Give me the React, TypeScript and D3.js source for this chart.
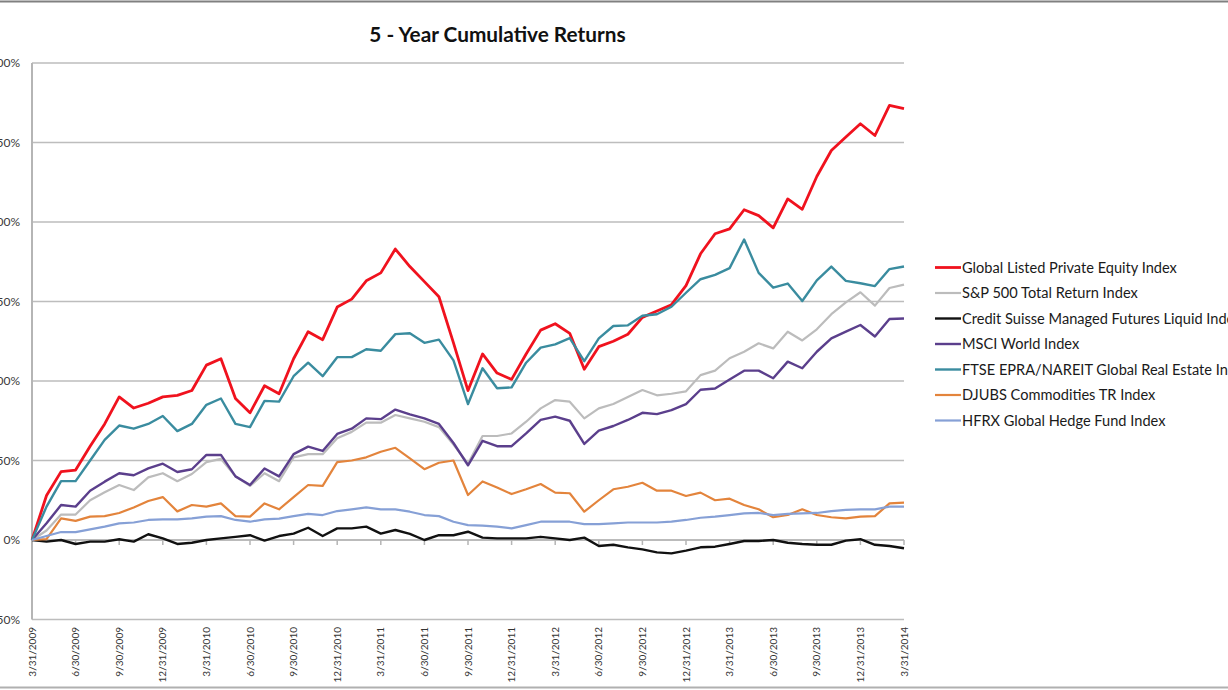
import React from 'react';
import * as d3 from 'd3';

// month-end dates, 3/31/2009 .. 3/31/2014
const dates = [
  '3/31/2009', '4/30/2009', '5/31/2009', '6/30/2009', '7/31/2009', '8/31/2009',
  '9/30/2009', '10/31/2009', '11/30/2009', '12/31/2009', '1/31/2010', '2/28/2010',
  '3/31/2010', '4/30/2010', '5/31/2010', '6/30/2010', '7/31/2010', '8/31/2010',
  '9/30/2010', '10/31/2010', '11/30/2010', '12/31/2010', '1/31/2011', '2/28/2011',
  '3/31/2011', '4/30/2011', '5/31/2011', '6/30/2011', '7/31/2011', '8/31/2011',
  '9/30/2011', '10/31/2011', '11/30/2011', '12/31/2011', '1/31/2012', '2/29/2012',
  '3/31/2012', '4/30/2012', '5/31/2012', '6/30/2012', '7/31/2012', '8/31/2012',
  '9/30/2012', '10/31/2012', '11/30/2012', '12/31/2012', '1/31/2013', '2/28/2013',
  '3/31/2013', '4/30/2013', '5/31/2013', '6/30/2013', '7/31/2013', '8/31/2013',
  '9/30/2013', '10/31/2013', '11/30/2013', '12/31/2013', '1/31/2014', '2/28/2014',
  '3/31/2014',
];

const tickLabels = [
  '3/31/2009', '6/30/2009', '9/30/2009', '12/31/2009', '3/31/2010', '6/30/2010',
  '9/30/2010', '12/31/2010', '3/31/2011', '6/30/2011', '9/30/2011', '12/31/2011',
  '3/31/2012', '6/30/2012', '9/30/2012', '12/31/2012', '3/31/2013', '6/30/2013',
  '9/30/2013', '12/31/2013', '3/31/2014',
];

const yTicks = [-50, 0, 50, 100, 150, 200, 250, 300];

// cumulative returns in %
const glpe = [
  0, 28, 43, 44, 59, 73, 90, 83, 86, 90, 91, 94, 110, 114, 89, 80, 97, 92, 114, 131,
  126, 146.5, 151.5, 163, 168, 183, 172, 162.5, 153, 124, 94, 117, 105, 101, 117, 132, 136, 130, 107.4, 121.6,
  125, 129.4, 140, 144, 148, 160, 180, 192.6, 195.7, 207.7, 204, 196.3, 214.5, 208, 228.6, 245, 253.4, 261.8, 254.4, 273.3,
  271.3,
];
const sp500 = [
  0, 6, 16, 16, 25, 30, 34.6, 31.4, 39.4, 42, 37, 41.5, 49, 51, 40, 34, 42, 37, 52, 54,
  54, 64, 68, 73.8, 73.8, 78.6, 76.5, 74.4, 71, 60, 48, 65.4, 65.4, 67, 74.4, 82.8, 88, 87, 76.5, 82.8,
  85.5, 90, 94.3, 91, 92, 93.5, 103.7, 106.5, 114.3, 118.4, 123.7, 120.5, 131, 125.5, 132.5, 142, 149.5, 155.8, 147.4, 158.5,
  160.6,
];
const creditSuisse = [
  0, -1, 0, -2.5, -1, -1, 0.5, -1, 3.6, 1, -2.5, -1.7, 0, 1, 2, 3, -0.4, 2.5, 4, 7.7,
  2.5, 7.3, 7.3, 8.4, 4, 6.3, 3.8, 0, 3, 3, 5.2, 1.5, 1, 1, 1, 2, 1, 0, 1.5, -3.8,
  -3, -4.6, -5.9, -7.8, -8.4, -6.7, -4.6, -4.2, -2.5, -0.6, -0.6, 0, -1.7, -2.5, -3, -3, -0.4, 0.5, -3, -3.8,
  -5.2,
];
const msci = [
  0, 10.5, 22, 21, 31, 36.7, 42, 40.7, 45, 48, 42.8, 44.5, 53.5, 53.5, 40, 34.6, 45, 40, 54, 58.7,
  56, 66.7, 70, 76.5, 76, 82, 79, 76.5, 73, 61, 47, 62.4, 59, 59, 67, 75.5, 77.6, 75, 60.4, 68.8,
  71.7, 75.5, 80, 79.2, 81.7, 85.5, 94.5, 95.3, 101, 106.5, 106.5, 101.7, 112.2, 108, 118.4, 126.8, 131, 135.2, 128, 139,
  139.3,
];
const ftse = [
  0, 21, 37, 37, 50, 63, 72, 70, 73, 78, 68.5, 73, 85, 89, 73, 71, 87.5, 87, 103, 111.5,
  103, 115, 115, 120, 119, 129.5, 130, 124, 126, 113, 85.5, 108, 95.4, 96, 111.5, 121, 123, 127, 112.5, 126.8,
  134.6, 135, 141, 142, 146.7, 155.5, 164, 166.7, 171, 189, 168, 158.7, 161.3, 150.3, 163.3, 172, 163, 161.5, 159.7, 170.4,
  172,
];
const djubs = [
  0, 0.5, 13.6, 12, 14.7, 15, 17, 20.5, 24.5, 27, 18, 22, 21, 23, 15, 14.7, 23, 19.3, 27, 34.6,
  34, 49, 50, 52, 55.5, 58, 51.4, 44.5, 48.6, 50, 28.3, 36.8, 33, 28.9, 31.9, 35.2, 29.8, 29.4, 17.8, 25,
  31.9, 33.5, 36, 31, 31, 27.7, 29.8, 25, 26, 22, 19.3, 14.3, 15.7, 19.3, 15.7, 14.3, 13.6, 14.7, 15, 23,
  23.5,
];
const hfrx = [
  0, 2.5, 5, 5, 6.7, 8.4, 10.5, 11, 12.6, 13, 13, 13.6, 14.7, 15, 12.6, 11.5, 13, 13.4, 15, 16.4,
  15.7, 18.2, 19.3, 20.5, 19.3, 19.3, 17.8, 15.7, 15, 11.5, 9.4, 9.1, 8.4, 7.3, 9.4, 11.5, 11.5, 11.5, 10, 10,
  10.5, 11, 11, 11, 11.5, 12.6, 14, 14.7, 15.7, 16.8, 17, 15.7, 16.4, 16.8, 17, 18.2, 18.9, 19.3, 19.3, 21,
  21,
];

const seriesNames = [
  'Global Listed Private Equity Index',
  'S&P 500 Total Return Index',
  'Credit Suisse Managed Futures Liquid Index',
  'MSCI World Index',
  'FTSE EPRA/NAREIT Global Real Estate Index',
  'DJUBS Commodities TR Index',
  'HFRX Global Hedge Fund Index',
];
const seriesValues = [glpe, sp500, creditSuisse, msci, ftse, djubs, hfrx];
const seriesColors = ['#f0121e', '#bcbcbc', '#111111', '#5b3f8c', '#3a8c9f', '#e3843c', '#86a0d6'];
const seriesWidths = [2.8, 2.2, 2.4, 2.4, 2.4, 2.2, 2.2];

const W = 1228;
const H = 690;
const FONT = 'Lato, "Open Sans", sans-serif';

const App: React.FC = () => {
  const x = d3.scalePoint<string>().domain(dates).range([32, 904]);
  const y = d3.scaleLinear().domain([-50, 300]).range([619.5, 63]);

  const line = d3.line<number>()
    .x((_, i) => x(dates[i]) as number)
    .y(d => y(d))
    .curve(d3.curveLinear);

  const [x0, x1] = x.range();

  return (
    <div style={{ position: 'fixed', left: 0, top: 0, width: W, height: H, background: '#fff' }}>
      <svg width={W} height={H} style={{ display: 'block' }} fontFamily={FONT}>
        <rect x={0} y={0} width={W} height={H} fill="#fff" />
        {/* outer frame */}
        <line x1={0} x2={W} y1={1.5} y2={1.5} stroke="#808080" strokeWidth={2} />
        <line x1={0} x2={W} y1={687.5} y2={687.5} stroke="#b0b0b0" strokeWidth={2} />

        <text x={497.5} y={41.5} textAnchor="middle" fontSize={20.8} fontWeight="bold" fill="#111">
          5 - Year Cumulative Returns
        </text>

        {/* gridlines */}
        {yTicks.map(t => (
          <line key={t} x1={x0} x2={x1} y1={y(t)} y2={y(t)} stroke="#bdbdbd" strokeWidth={1.5} />
        ))}
        {/* value axis */}
        <line x1={x0} x2={x0} y1={y(300)} y2={y(-50)} stroke="#b5b5b5" strokeWidth={2} />
        {yTicks.map(t => (
          <text key={t} x={20} y={y(t)} dy="0.35em" textAnchor="end" fontSize={12} fill="#3a3a3a">
            {`${t}%`}
          </text>
        ))}

        {/* category axis crosses at 0% */}
        <line x1={x0} x2={x1} y1={y(0)} y2={y(0)} stroke="#b5b5b5" strokeWidth={1.5} />
        {tickLabels.map(d => (
          <line key={d} x1={x(d)} x2={x(d)} y1={y(0)} y2={y(0) + 5} stroke="#b5b5b5" strokeWidth={1.5} />
        ))}
        {tickLabels.map(d => (
          <text
            key={d}
            transform={`translate(${x(d)},627) rotate(-90)`}
            textAnchor="end"
            dy="0.35em"
            fontSize={10}
            fill="#333"
          >
            {d}
          </text>
        ))}

        {/* series */}
        {seriesValues.map((vals, k) => (
          <path
            key={seriesNames[k]}
            d={line(vals) || ''}
            fill="none"
            stroke={seriesColors[k]}
            strokeWidth={seriesWidths[k]}
            strokeLinejoin="round"
          />
        ))}

        {/* legend */}
        {seriesNames.map((name, k) => {
          const ly = 267.5 + k * 25.5;
          return (
            <g key={name}>
              <line x1={935} x2={961} y1={ly} y2={ly} stroke={seriesColors[k]} strokeWidth={seriesWidths[k]} />
              <text x={962} y={ly} dy="0.35em" fontSize={14.6} fill="#1a1a1a">
                {name}
              </text>
            </g>
          );
        })}
      </svg>
    </div>
  );
};

export default App;
